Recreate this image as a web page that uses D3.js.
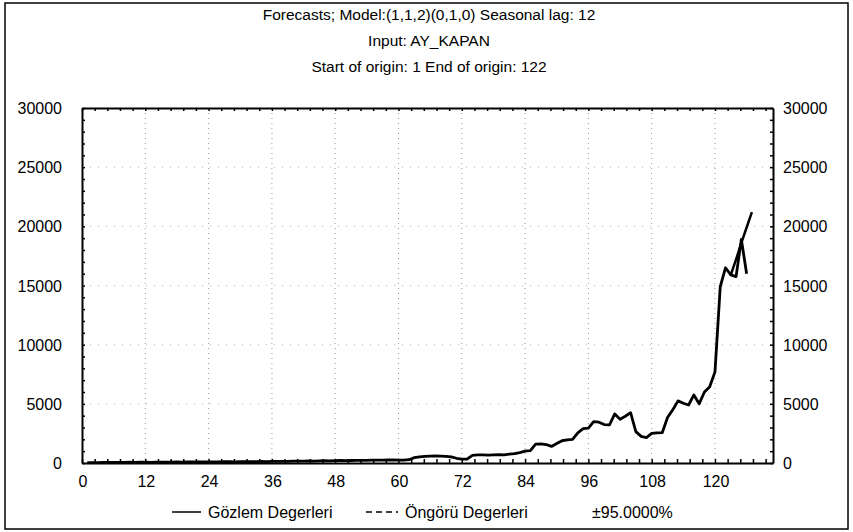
<!DOCTYPE html>
<html>
<head>
<meta charset="utf-8">
<script src="https://cdnjs.cloudflare.com/ajax/libs/d3/7.8.5/d3.min.js"></script>
<style>
  body { margin: 0; background: #fff; }
  text { font-family: "Liberation Sans", Arial, sans-serif; fill: #000; }
</style>
</head>
<body>
<div id="chart"></div>
<script>
// data
var titleLines = ["Forecasts; Model:(1,1,2)(0,1,0) Seasonal lag: 12",
                  "Input: AY_KAPAN",
                  "Start of origin: 1 End of origin: 122"];
var xTicks = [0, 12, 24, 36, 48, 60, 72, 84, 96, 108, 120];
var yTicks = [0, 5000, 10000, 15000, 20000, 25000, 30000];
var legendLabels = ["Gözlem Degerleri", "Öngörü Degerleri", "±95.0000%"];

// observed values, case 1..126
var observed = [
  30, 40, 35, 50, 45, 60, 55, 50, 65, 60,
  70, 65, 60, 75, 70, 80, 75, 85, 80, 90,
  85, 90, 100, 95, 90, 100, 110, 105, 100, 115,
  110, 120, 115, 125, 120, 130, 140, 135, 145, 150,
  160, 155, 170, 165, 180, 190, 185, 200, 210, 195,
  210, 220, 215, 230, 240, 235, 250, 260, 255, 240,
  250, 280, 450, 520, 560, 580, 590, 580, 560, 520,
  400, 320, 330, 650, 690, 680, 670, 690, 700, 690,
  750, 800, 880, 1000, 1050, 1600, 1620, 1560, 1400, 1650,
  1880, 1950, 2000, 2550, 2900, 2950, 3500, 3450, 3250, 3230,
  4150, 3700, 3950, 4250, 2650, 2250, 2150, 2500, 2550, 2560,
  3850, 4500, 5250, 5050, 4900, 5750, 5000, 6000, 6450, 7700,
  14900, 16500, 15900, 15750, 18900, 16000
];
// forecasts, case 123..127
var forecastStart = 123;
var forecast = [15900, 17200, 18600, 19900, 21200];

var W = 853, H = 532;

var svg = d3.select("#chart")
    .append("svg")
    .attr("width", W)
    .attr("height", H);

// outer frame
svg.append("rect")
    .attr("x", 5).attr("y", 3)
    .attr("width", 843).attr("height", 526)
    .attr("fill", "none")
    .attr("stroke", "#000")
    .attr("stroke-width", 1.5);

// titles
svg.selectAll("text.title")
    .data(titleLines)
    .enter().append("text")
    .attr("class", "title")
    .attr("x", 429)
    .attr("y", function (d, i) { return 20 + i * 26 })
    .attr("text-anchor", "middle")
    .style("font-size", "15.5px")
    .text(function (d) { return d });

var x = d3.scaleLinear().domain([0, 131]).range([82, 773]);
var y = d3.scaleLinear().domain([0, 30000]).range([463, 108]);

// grid (dotted)
svg.append("g")
    .selectAll("line")
    .data(xTicks.slice(1))
    .enter().append("line")
    .attr("x1", function (d) { return x(d) })
    .attr("x2", function (d) { return x(d) })
    .attr("y1", y(30000)).attr("y2", y(0))
    .attr("stroke", "#999")
    .attr("stroke-dasharray", "1,4");
svg.append("g")
    .selectAll("line")
    .data(yTicks.slice(1, -1))
    .enter().append("line")
    .attr("x1", x(0)).attr("x2", x(131))
    .attr("y1", function (d) { return y(d) })
    .attr("y2", function (d) { return y(d) })
    .attr("stroke", "#bbb")
    .attr("stroke-dasharray", "1,7");

// axes: ticks point inward, minor ticks between
var xMinor = d3.range(0, 131, 2.4);
var yMinor = d3.range(0, 30001, 1000);

svg.append("g")
    .attr("transform", "translate(0," + y(0) + ")")
    .call(d3.axisTop(x).tickValues(xMinor).tickFormat("").tickSize(4).tickSizeOuter(0));
svg.append("g")
    .attr("transform", "translate(0," + y(30000) + ")")
    .call(d3.axisBottom(x).tickValues(xMinor).tickFormat("").tickSize(3).tickSizeOuter(0));
svg.append("g")
    .attr("transform", "translate(" + x(0) + ",0)")
    .call(d3.axisRight(y).tickValues(yMinor).tickFormat("").tickSize(3).tickSizeOuter(0));
svg.append("g")
    .attr("transform", "translate(" + x(131) + ",0)")
    .call(d3.axisLeft(y).tickValues(yMinor).tickFormat("").tickSize(3).tickSizeOuter(0));
svg.selectAll(".domain").attr("stroke-width", 2);
svg.selectAll(".tick line").attr("stroke-width", 1.5);

// tick labels
svg.append("g")
    .selectAll("text")
    .data(xTicks)
    .enter().append("text")
    .attr("x", function (d) { return x(d) + 1 })
    .attr("y", 487)
    .attr("text-anchor", "middle")
    .style("font-size", "16px")
    .text(function (d) { return d });
svg.append("g")
    .selectAll("text")
    .data(yTicks)
    .enter().append("text")
    .attr("x", 62)
    .attr("y", function (d) { return y(d) + 6 })
    .attr("text-anchor", "end")
    .style("font-size", "16px")
    .text(function (d) { return d });
svg.append("g")
    .selectAll("text")
    .data(yTicks)
    .enter().append("text")
    .attr("x", 783)
    .attr("y", function (d) { return y(d) + 6 })
    .style("font-size", "16px")
    .text(function (d) { return d });

// lines
var line = d3.line()
    .x(function (d) { return x(d[0]) })
    .y(function (d) { return y(d[1]) });

svg.append("path")
    .datum(observed.map(function (v, i) { return [i + 1, v] }))
    .attr("d", line)
    .attr("fill", "none")
    .attr("stroke", "#000")
    .attr("stroke-width", 2.8)
    .attr("stroke-linejoin", "round");

svg.append("path")
    .datum(forecast.map(function (v, i) { return [forecastStart + i, v] }))
    .attr("d", line)
    .attr("fill", "none")
    .attr("stroke", "#000")
    .attr("stroke-width", 2.5)
    .attr("stroke-linejoin", "round");

// legend
var legend = svg.append("g");
legend.append("line")
    .attr("x1", 172).attr("x2", 201).attr("y1", 512).attr("y2", 512)
    .attr("stroke", "#000").attr("stroke-width", 1.5);
legend.append("line")
    .attr("x1", 366).attr("x2", 398).attr("y1", 512).attr("y2", 512)
    .attr("stroke", "#000").attr("stroke-width", 1.5)
    .attr("stroke-dasharray", "6,4");
legend.selectAll("text")
    .data(legendLabels)
    .enter().append("text")
    .attr("x", function (d, i) { return [208, 405, 592][i] })
    .attr("y", 518)
    .style("font-size", "16px")
    .text(function (d) { return d });
</script>
</body>
</html>
